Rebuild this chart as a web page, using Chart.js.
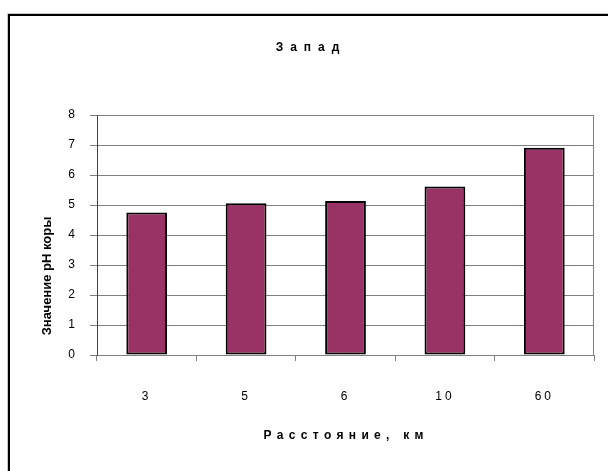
<!DOCTYPE html>
<html>
<head>
<meta charset="utf-8">
<script src="https://cdn.jsdelivr.net/npm/chart.js@4.4.1/dist/chart.umd.min.js"></script>
<style>
  html, body { margin: 0; padding: 0; background: #fff; }
  #wrap { position: relative; width: 608px; height: 471px; }
  canvas { display: block; }
</style>
</head>
<body>
<div id="wrap"><canvas id="chart" width="608" height="471"></canvas></div>
<script>
// Chart texts
const chartTitle = 'Запад';
const xAxisTitle = 'Расстояние, км';
const yAxisTitle = 'Значение pH коры';

// Categories and values
const distances = ['3', '5', '6', '10', '60'];
const phValues = [4.75, 5.06, 5.13, 5.62, 6.91];
const yTicks = [0, 1, 2, 3, 4, 5, 6, 7, 8];

const FONT = "'Liberation Sans', Arial, sans-serif";
const GRID = '#808080';

// Draw a string centred on cx with extra space between characters
function spacedText(ctx, text, cx, y, spacing) {
  const chars = Array.from(text);
  const widths = chars.map(c => ctx.measureText(c).width);
  const total = widths.reduce((a, b) => a + b, 0) + spacing * (chars.length - 1);
  let x = cx - total / 2;
  ctx.textAlign = 'left';
  chars.forEach((c, i) => {
    ctx.fillText(c, x, y);
    x += widths[i] + spacing;
  });
}

const decorations = {
  id: 'decorations',
  beforeDraw(chart) {
    const ctx = chart.ctx;
    // outer frame (top and left edges visible)
    ctx.save();
    ctx.strokeStyle = '#c8c8c8';
    ctx.lineWidth = 1;
    ctx.beginPath();
    ctx.moveTo(7.5, 471);
    ctx.lineTo(7.5, 13.5);
    ctx.lineTo(608, 13.5);
    ctx.stroke();
    ctx.strokeStyle = '#000';
    ctx.lineWidth = 2;
    ctx.beginPath();
    ctx.moveTo(9, 471);
    ctx.lineTo(9, 15);
    ctx.lineTo(608, 15);
    ctx.stroke();
    ctx.restore();
    // tick labels drawn with slight letter spacing
    if ('letterSpacing' in ctx) ctx.letterSpacing = '3px';
  },
  beforeDatasetsDraw(chart) {
    const ctx = chart.ctx;
    if ('letterSpacing' in ctx) ctx.letterSpacing = '0px';
    const a = chart.chartArea;
    // right edge of the plot area
    ctx.save();
    ctx.strokeStyle = GRID;
    ctx.lineWidth = 1;
    ctx.beginPath();
    ctx.moveTo(Math.round(a.right) - 0.5, a.top);
    ctx.lineTo(Math.round(a.right) - 0.5, a.bottom);
    ctx.stroke();
    ctx.restore();
  },
  afterDraw(chart) {
    const ctx = chart.ctx;
    const a = chart.chartArea;
    ctx.save();
    ctx.fillStyle = '#000';
    ctx.textBaseline = 'alphabetic';
    // chart title
    ctx.font = 'bold 12px ' + FONT;
    spacedText(ctx, chartTitle, 307.5, 51, 7);
    // x axis title
    ctx.font = 'bold 12px ' + FONT;
    spacedText(ctx, xAxisTitle, (a.left + a.right) / 2 - 2, 438.5, 5.3);
    // y axis title
    ctx.translate(47, 276);
    ctx.rotate(-Math.PI / 2);
    ctx.font = 'bold 13px ' + FONT;
    ctx.textAlign = 'center';
    ctx.textBaseline = 'middle';
    ctx.fillText(yAxisTitle, 0, 0);
    ctx.restore();
  }
};

new Chart(document.getElementById('chart'), {
  type: 'bar',
  data: {
    labels: distances,
    datasets: [{
      data: phValues,
      backgroundColor: '#993366',
      borderColor: '#000000',
      borderWidth: 2,
      borderSkipped: false,
      barPercentage: 0.41,
      categoryPercentage: 1.0
    }]
  },
  options: {
    responsive: false,
    animation: false,
    devicePixelRatio: 1,
    layout: { padding: { top: 115, right: 14, left: 0, bottom: 0 } },
    plugins: {
      legend: { display: false },
      title: { display: false },
      tooltip: { enabled: false }
    },
    scales: {
      x: {
        offset: true,
        grid: {
          offset: true,
          drawOnChartArea: false,
          drawTicks: true,
          tickLength: 6,
          color: GRID,
          lineWidth: 1
        },
        border: { display: true, color: GRID, width: 1 },
        ticks: {
          color: '#000',
          font: { family: FONT, size: 12 },
          padding: 28,
          maxRotation: 0
        },
        afterFit(scale) { scale.height = 116; }
      },
      y: {
        min: 0,
        max: 8,
        afterBuildTicks(scale) { scale.ticks = yTicks.map(v => ({ value: v })); },
        grid: {
          color: GRID,
          lineWidth: 1,
          drawTicks: true,
          tickLength: 7
        },
        border: { display: true, color: '#404040', width: 1 },
        ticks: {
          color: '#000',
          font: { family: FONT, size: 12 },
          padding: 12
        },
        afterFit(scale) { scale.width = 97; }
      }
    }
  },
  plugins: [decorations]
});
</script>
</body>
</html>
